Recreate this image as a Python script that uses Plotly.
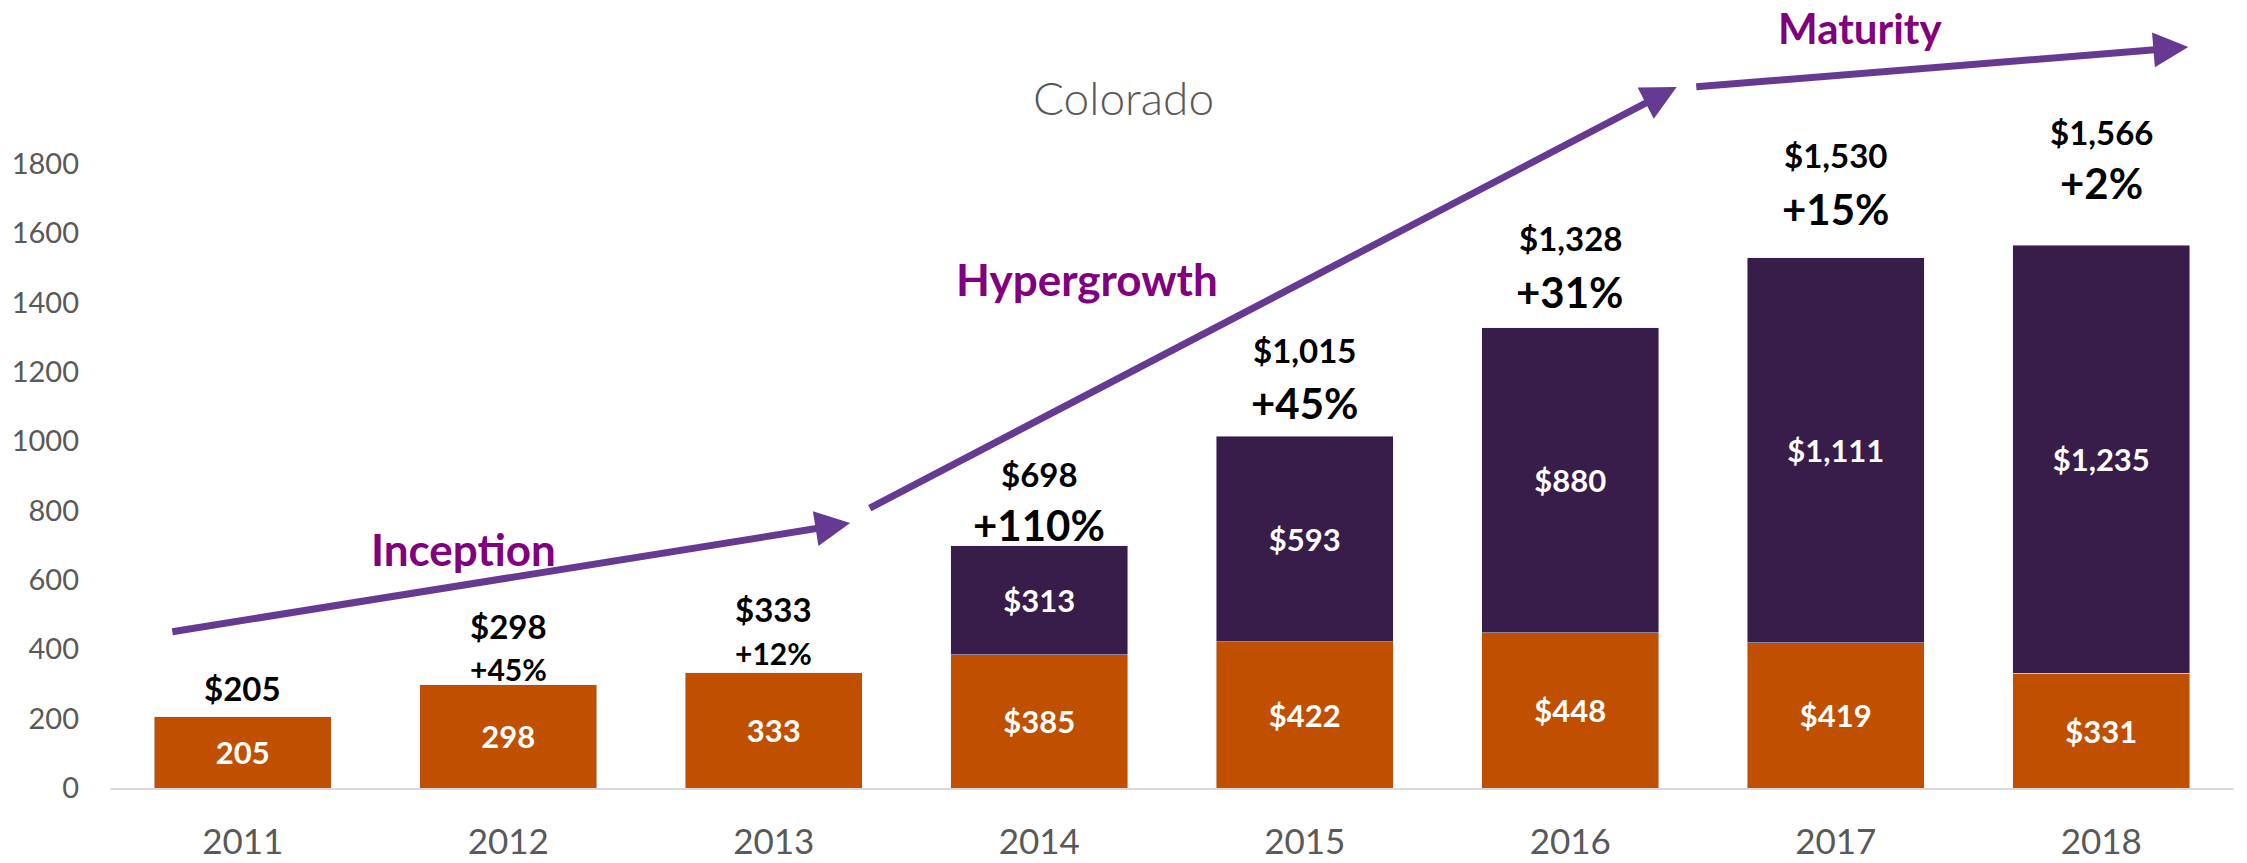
import plotly.graph_objects as go

# ---- data ----
years = ['2011', '2012', '2013', '2014', '2015', '2016', '2017', '2018']
base_vals = [205, 298, 333, 385, 422, 448, 419, 331]
growth_vals = [None, None, None, 313, 593, 880, 1111, 1235]
totals = [205, 298, 333, 698, 1015, 1328, 1530, 1566]
base_text = ['205', '298', '333', '$385', '$422', '$448', '$419', '$331']
growth_text = ['', '', '', '$313', '$593', '$880', '$1,111', '$1,235']
total_text = ['$205', '$298', '$333', '$698', '$1,015', '$1,328', '$1,530', '$1,566']
pct_text = ['', '+45%', '+12%', '+110%', '+45%', '+31%', '+15%', '+2%']
y_ticks = [0, 200, 400, 600, 800, 1000, 1200, 1400, 1600, 1800]

# phase arrows (tail -> head) in axis units (category index, value)
phases = ['Inception', 'Hypergrowth', 'Maturity']
arrow_tail = [(-0.271, 450), (2.356, 805), (5.469, 2022)]
arrow_head = [(2.288, 764), (5.401, 2022), (7.328, 2137)]
phase_pos = [(0.83, 689), (3.18, 1468), (6.09, 2193)]

# ---- styling ----
ORANGE = '#C05000'
DARK = '#381C4A'
ARROW = '#663A93'
PHASE = '#800080'
GRAY = '#595959'
FONT = 'Lato'
total_shift = [29, 59, 64, 72, 86, 90, 103, 113]
pct_shift = [0, 16, 20, 21, 33, 36, 49, 62]
pct_size = [0, 30, 30, 42, 42, 42, 42, 42]
phase_size = [44, 44, 42]

fig = go.Figure()
fig.add_trace(go.Bar(x=years, y=base_vals, marker_color=ORANGE, text=base_text,
                     textposition='inside', insidetextanchor='middle',
                     textfont=dict(color='white', size=31, family=FONT, weight='bold'),
                     textangle=0, constraintext='none', hoverinfo='skip'))
fig.add_trace(go.Bar(x=years, y=growth_vals, marker_color=DARK, text=growth_text,
                     textposition='inside', insidetextanchor='middle',
                     textfont=dict(color='white', size=31, family=FONT, weight='bold'),
                     textangle=0, constraintext='none', hoverinfo='skip'))

ann = []
for i, yr in enumerate(years):
    ann.append(dict(x=i, y=totals[i], xref='x', yref='y', text=total_text[i], showarrow=False,
                    yanchor='middle', yshift=total_shift[i],
                    font=dict(size=33, color='black', family=FONT, weight='bold')))
    if pct_text[i]:
        ann.append(dict(x=i, y=totals[i], xref='x', yref='y', text=pct_text[i], showarrow=False,
                        yanchor='middle', yshift=pct_shift[i],
                        font=dict(size=pct_size[i], color='black', family=FONT, weight='bold')))

for name, t, h, p, s in zip(phases, arrow_tail, arrow_head, phase_pos, phase_size):
    ann.append(dict(x=h[0], y=h[1], ax=t[0], ay=t[1], xref='x', yref='y', axref='x', ayref='y',
                    text='', showarrow=True, arrowhead=2, arrowsize=1.0, arrowwidth=7,
                    arrowcolor=ARROW, standoff=0, startstandoff=0))
    ann.append(dict(x=p[0], y=p[1], xref='x', yref='y', text=name, showarrow=False,
                    font=dict(size=s, color=PHASE, family=FONT, weight='bold')))

fig.update_layout(
    barmode='stack', bargap=0.335, showlegend=False,
    width=2247, height=863,
    margin=dict(l=110, r=13, t=2, b=75),
    paper_bgcolor='white', plot_bgcolor='white',
    title=dict(text='Colorado', x=0.5, xanchor='center', xref='container',
               y=1 - 99 / 863, yanchor='middle', yref='container',
               font=dict(size=46, color=GRAY, family=FONT, weight=300)),
    annotations=ann,
    xaxis=dict(showgrid=False, showline=True, linecolor='#D9D9D9', linewidth=2,
               tickfont=dict(size=35, color=GRAY, family=FONT), ticklabelstandoff=22,
               range=[-0.5, 7.5]),
    yaxis=dict(showgrid=False, zeroline=False, showline=False, range=[0, 2267],
               tickvals=y_ticks, ticktext=[str(v) for v in y_ticks],
               tickfont=dict(size=29, color=GRAY, family=FONT), ticklabelstandoff=30),
)

fig.write_html('out.html', config={'displayModeBar': False},
               post_script="document.body.style.margin='0px';document.body.style.overflow='hidden';")
